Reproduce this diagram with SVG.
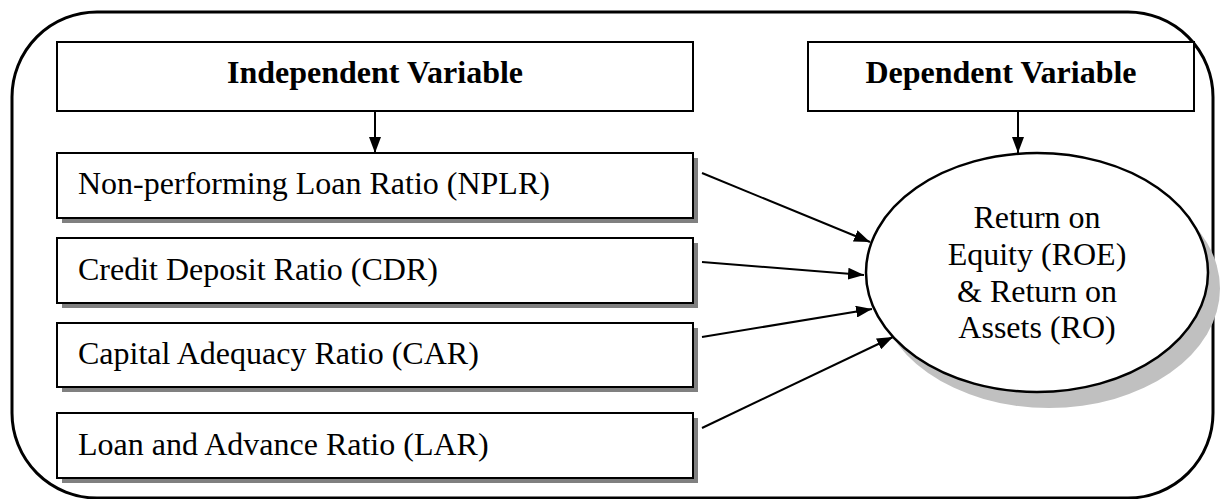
<svg xmlns="http://www.w3.org/2000/svg" width="1220" height="499" viewBox="0 0 1220 499">
<defs>
<style>
.box{fill:#fff;stroke:#000;stroke-width:2}
.shadow{fill:#808080}
.conn{stroke:#000;stroke-width:2;fill:none}
text{font-family:'Liberation Serif','Times New Roman',Times,serif;font-size:32px;fill:#000}
</style>
<marker id="arr" viewBox="0 0 8 6" refX="8" refY="3" markerWidth="8" markerHeight="6" orient="auto">
<path d="M0,0 L8,3 L0,6 z" fill="#000"/>
</marker>
</defs>
<rect width="1220" height="499" fill="#fff"/>
<rect id="frame" x="12" y="12" width="1201" height="486" rx="85" ry="85" fill="none" stroke="#000" stroke-width="3"/>

<g id="independent">
<rect class="box" x="57" y="42" width="636" height="69"/>
<text x="375" y="83" font-weight="bold" text-anchor="middle" style="font-family:'Liberation Serif',serif">Independent Variable</text>
</g>
<g id="dependent">
<rect class="box" x="808" y="42" width="386" height="69"/>
<text x="1001" y="83" font-weight="bold" text-anchor="middle" style="font-family:'Liberation Serif',serif">Dependent Variable</text>
</g>

<g id="nplr">
<rect class="shadow" x="62" y="158" width="636" height="65"/>
<rect class="box" x="57" y="153" width="636" height="65"/>
<text x="78" y="194" style="font-family:'Liberation Serif',serif">Non-performing Loan Ratio (NPLR)</text>
</g>
<g id="cdr">
<rect class="shadow" x="62" y="243" width="636" height="65"/>
<rect class="box" x="57" y="238" width="636" height="65"/>
<text x="78" y="280" style="font-family:'Liberation Serif',serif">Credit Deposit Ratio (CDR)</text>
</g>
<g id="car">
<rect class="shadow" x="62" y="328" width="636" height="64"/>
<rect class="box" x="57" y="323" width="636" height="64"/>
<text x="78" y="364" style="font-family:'Liberation Serif',serif">Capital Adequacy Ratio (CAR)</text>
</g>
<g id="lar">
<rect class="shadow" x="62" y="418" width="636" height="65"/>
<rect class="box" x="57" y="413" width="636" height="65"/>
<text x="78" y="455" style="font-family:'Liberation Serif',serif">Loan and Advance Ratio (LAR)</text>
</g>

<g id="outcome">
<ellipse cx="1049" cy="288.5" rx="171" ry="119.5" fill="#c0c0c0"/>
<ellipse cx="1037" cy="272.5" rx="171" ry="119.5" fill="#fff" stroke="#000" stroke-width="2.5"/>
<text x="1037" y="228" text-anchor="middle" style="font-family:'Liberation Serif',serif">Return on</text>
<text x="1037" y="265" text-anchor="middle" style="font-family:'Liberation Serif',serif">Equity (ROE)</text>
<text x="1037" y="302" text-anchor="middle" style="font-family:'Liberation Serif',serif">&amp; Return on</text>
<text x="1037" y="338" text-anchor="middle" style="font-family:'Liberation Serif',serif">Assets (RO)</text>
</g>

<g id="connectors">
<line class="conn" marker-end="url(#arr)" x1="375" y1="111" x2="375" y2="153"/>
<line class="conn" marker-end="url(#arr)" x1="1018" y1="111" x2="1018" y2="153"/>
<line class="conn" marker-end="url(#arr)" x1="702" y1="173" x2="870" y2="242"/>
<line class="conn" marker-end="url(#arr)" x1="702" y1="262" x2="864" y2="275"/>
<line class="conn" marker-end="url(#arr)" x1="702" y1="337" x2="872" y2="309"/>
<line class="conn" marker-end="url(#arr)" x1="702" y1="428" x2="893" y2="337"/>
</g>
</svg>
